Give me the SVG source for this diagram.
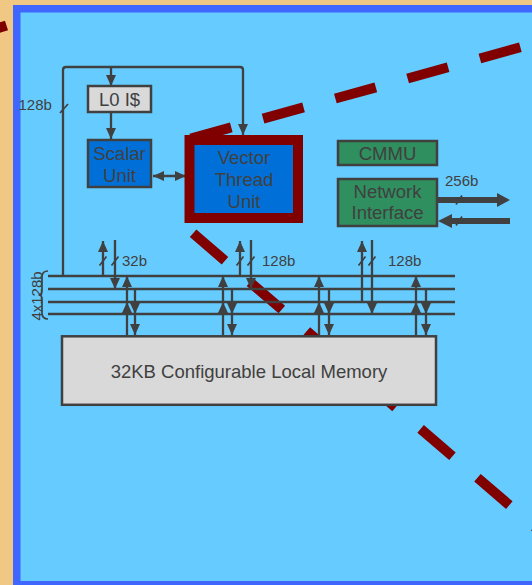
<svg xmlns="http://www.w3.org/2000/svg" width="532" height="585" viewBox="0 0 532 585">
<style>
.t{font-family:"Liberation Sans",Arial,sans-serif;fill:#404040;text-anchor:middle;font-size:18.5px}
.s{font-family:"Liberation Sans",Arial,sans-serif;fill:#404040;font-size:15px}
.w{fill:none;stroke:#404040;stroke-width:2.3}
.sl{fill:none;stroke:#404040;stroke-width:1.7}
.bus{fill:none;stroke:#404040;stroke-width:2.5}
.box{stroke:#404040;stroke-width:2.5}
.dash{fill:none;stroke:#800000;stroke-width:10;stroke-dasharray:42 33}
</style>
<defs>
<marker id="ah" viewBox="0 0 11 10" refX="11" refY="5" markerWidth="11" markerHeight="10" markerUnits="userSpaceOnUse" orient="auto-start-reverse"><path d="M0,0L11,5L0,10z" fill="#404040"/></marker>
</defs>
<g id="background">
<rect x="0" y="0" width="532" height="585" fill="#F1C883"/>
<line x1="-22" y1="34.5" x2="6.5" y2="25.5" stroke="#800000" stroke-width="10"/>
<rect x="16.75" y="8.75" width="600" height="576" fill="#66CCFF" stroke="#3F66FF" stroke-width="7.5"/>
</g>
<g id="callout-lines">
<path class="dash" d="M190.8,138.6L624.4,18.4"/>
<path class="dash" d="M193.1,233.3L572,559"/>
</g>
<g id="connectors">
<path class="w" d="M63,276V70Q63,67 66,67H240Q243,67 243,70V135" marker-end="url(#ah)"/>
<path class="w" d="M111,67V86" marker-end="url(#ah)"/>
<path class="w" d="M111,113V139" marker-end="url(#ah)"/>
<path class="w" d="M153,176H186" marker-start="url(#ah)" marker-end="url(#ah)"/>
<path class="sl" d="M60,113L68,104"/>
<g id="bus">
<line class="bus" x1="48" y1="276" x2="455" y2="276"/>
<line class="bus" x1="48" y1="289" x2="455" y2="289"/>
<line class="bus" x1="48" y1="302" x2="455" y2="302"/>
<line class="bus" x1="48" y1="314" x2="455" y2="314"/>
<path class="sl" d="M48,271Q42,271 42,277V291Q42,295 38.5,295Q42,295 42,299V313Q42,319 48,319"/>
</g>
<path class="w" d="M103,276V241" marker-end="url(#ah)"/>
<path class="w" d="M115,240V289" marker-end="url(#ah)"/>
<path class="w" d="M240,276V241" marker-end="url(#ah)"/>
<path class="w" d="M251,240V289" marker-end="url(#ah)"/>
<path class="w" d="M362,302V241" marker-end="url(#ah)"/>
<path class="w" d="M372,240V314" marker-end="url(#ah)"/>
<path class="sl" d="M99.5,265.5L106.5,256.5M111.5,265.5L118.5,256.5M236.5,265.5L243.5,256.5M247.5,265.5L254.5,256.5M358.5,265.5L365.5,256.5M368.5,265.5L375.5,256.5"/>
<path class="w" d="M127,335V302" marker-end="url(#ah)"/>
<path class="w" d="M127,302V276" marker-end="url(#ah)"/>
<path class="w" d="M135,289V314" marker-end="url(#ah)"/>
<path class="w" d="M135,314V335" marker-end="url(#ah)"/>
<path class="w" d="M223,335V302" marker-end="url(#ah)"/>
<path class="w" d="M223,302V276" marker-end="url(#ah)"/>
<path class="w" d="M232,289V314" marker-end="url(#ah)"/>
<path class="w" d="M232,314V335" marker-end="url(#ah)"/>
<path class="w" d="M319,335V302" marker-end="url(#ah)"/>
<path class="w" d="M319,302V276" marker-end="url(#ah)"/>
<path class="w" d="M329,289V314" marker-end="url(#ah)"/>
<path class="w" d="M329,314V335" marker-end="url(#ah)"/>
<path class="w" d="M416,335V302" marker-end="url(#ah)"/>
<path class="w" d="M416,302V276" marker-end="url(#ah)"/>
<path class="w" d="M426,289V314" marker-end="url(#ah)"/>
<path class="w" d="M426,314V335" marker-end="url(#ah)"/>
<g id="network-links">
<line x1="438" y1="200" x2="498" y2="200" stroke="#404040" stroke-width="6"/>
<polygon points="497,193 510,200 497,207" fill="#404040"/>
<line x1="451" y1="221" x2="510" y2="221" stroke="#404040" stroke-width="6"/>
<polygon points="452,214 438,221 452,228" fill="#404040"/>
<path class="sl" d="M456,204.5L462,195.5M456,225.5L462,216.5"/>
</g>
</g>
<g id="l0-icache">
<rect class="box" x="88" y="86" width="63" height="26" fill="#D9D9D9"/>
<text class="t" x="119.5" y="106">L0 I$</text>
</g>
<g id="scalar-unit">
<rect class="box" x="88" y="140" width="63" height="47" fill="#0070D8"/>
<text class="t" x="119.5" y="160">Scalar</text>
<text class="t" x="119.5" y="182">Unit</text>
</g>
<g id="vector-thread-unit">
<rect x="189.5" y="140" width="108.5" height="78" fill="#0070D8" stroke="#800000" stroke-width="10"/>
<text class="t" x="244" y="164">Vector</text>
<text class="t" x="244" y="186">Thread</text>
<text class="t" x="244" y="208">Unit</text>
</g>
<g id="cmmu">
<rect class="box" x="338" y="141" width="99" height="24" fill="#2F8F5F"/>
<text class="t" x="387.5" y="160">CMMU</text>
</g>
<g id="network-interface">
<rect class="box" x="338" y="179" width="99" height="47" fill="#2F8F5F"/>
<text class="t" x="387.5" y="198">Network</text>
<text class="t" x="387.5" y="219">Interface</text>
</g>
<g id="local-memory">
<rect class="box" x="62" y="336.3" width="374" height="68.5" fill="#D9D9D9"/>
<text class="t" x="249" y="378">32KB Configurable Local Memory</text>
</g>
<g id="labels">
<text class="s" x="18.5" y="110">128b</text>
<text class="s" x="445" y="186">256b</text>
<text class="s" x="122" y="266">32b</text>
<text class="s" x="262" y="266">128b</text>
<text class="s" x="388" y="266">128b</text>
<text class="s" x="42" y="296" text-anchor="middle" transform="rotate(-90 42 296)">4x128b</text>
</g>
</svg>
